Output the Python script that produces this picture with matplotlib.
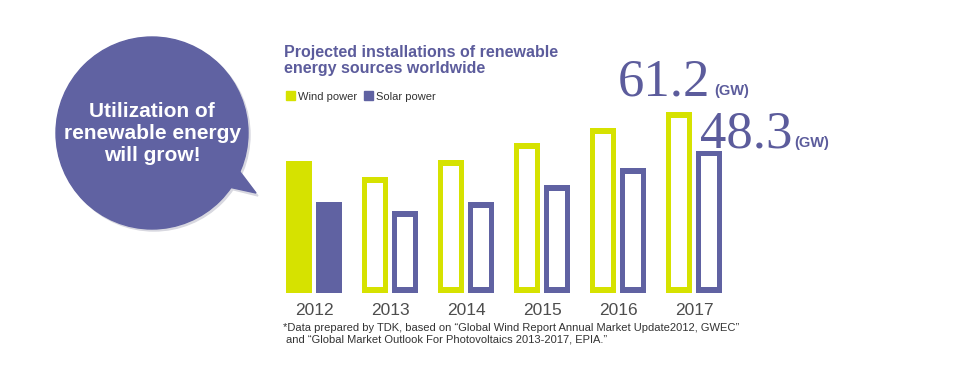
import matplotlib
matplotlib.use('Agg')
import matplotlib.pyplot as plt
from matplotlib.patches import Circle, Polygon, Rectangle

years = ['2012', '2013', '2014', '2015', '2016', '2017']
wind = [44.7, 39.3, 45.1, 50.8, 56.0, 61.2]
solar = [30.8, 27.8, 30.8, 36.6, 42.3, 48.3]

WIND_C = '#d6e200'
SOLAR_C = '#6062a2'
TITLE_C = '#5c5c9c'

W, H = 960, 383
fig = plt.figure(figsize=(W / 100, H / 100), dpi=100)

# chart axes placed in pixel terms: 76 px per year, 2.95 px per GW
px_x, px_y = 76.0, 2.95
ymax = 70
ax = fig.add_axes([276 / W, 90 / H, 456 / W, ymax * px_y / H])
ax.set_xlim(-0.5, 5.5)
ax.set_ylim(0, ymax)
for s in ax.spines.values():
    s.set_visible(False)
ax.set_yticks([])

x = list(range(len(years)))
bw = 26.5 / px_x
off = 15 / px_x
ins_x = 5.7 / px_x
ins_y = 5.7 / px_y

xw = [i - off for i in x]
xs = [i + off for i in x]
ax.bar(xw, wind, width=bw, color=WIND_C, zorder=2)
ax.bar(xs, solar, width=bw, color=SOLAR_C, zorder=2)
# hollow bars for projected years (2013 onwards)
ax.bar(xw[1:], [v - 2 * ins_y for v in wind[1:]], bottom=ins_y,
       width=bw - 2 * ins_x, color='white', zorder=3)
ax.bar(xs[1:], [v - 2 * ins_y for v in solar[1:]], bottom=ins_y,
       width=bw - 2 * ins_x, color='white', zorder=3)

ax.set_xticks(x)
ax.set_xticklabels(years, fontsize=12.5, color='#4d4d4d', family='Liberation Sans')
ax.tick_params(axis='x', length=0, pad=7)

# overlay in pixel coordinates for annotations and bubble
ov = fig.add_axes([0, 0, 1, 1])
ov.set_xlim(0, W)
ov.set_ylim(H, 0)
ov.axis('off')
ov.patch.set_visible(False)

# speech bubble
ov.add_patch(Circle((154, 135), 96, color='#d8d8e0', zorder=1))
ov.add_patch(Polygon([(236, 166), (258, 196), (226, 188)], closed=True,
                     color='#d8d8e0', zorder=1))
ov.add_patch(Circle((152, 133), 96, color=SOLAR_C, zorder=2))
ov.add_patch(Polygon([(234, 164), (256, 193), (224, 186)], closed=True,
                     color=SOLAR_C, zorder=2))
for txt, yb in [('Utilization of', 117), ('renewable energy', 139), ('will grow!', 161)]:
    ov.text(152, yb, txt, color='white', fontsize=15, fontweight='bold',
            family='Liberation Sans', ha='center', va='baseline', zorder=3)

# title
ov.text(284, 57, 'Projected installations of renewable', color=TITLE_C,
        fontsize=11.5, fontweight='bold', family='Liberation Sans', va='baseline')
ov.text(284, 73, 'energy sources worldwide', color=TITLE_C,
        fontsize=11.5, fontweight='bold', family='Liberation Sans', va='baseline')

# legend
ov.add_patch(Rectangle((286, 91), 9, 9, color=WIND_C))
ov.text(298, 99.5, 'Wind power', fontsize=8, color='#333333',
        family='Liberation Sans', va='baseline')
ov.add_patch(Rectangle((364, 91), 9, 9, color=SOLAR_C))
ov.text(376, 99.5, 'Solar power', fontsize=8, color='#333333',
        family='Liberation Sans', va='baseline')

# value callouts
ov.text(710, 95, f'{wind[-1]:.1f}', fontsize=38, color=TITLE_C,
        family='Liberation Serif', ha='right', va='baseline')
ov.text(714, 95, '(GW)', fontsize=10.5, color=TITLE_C, fontweight='bold',
        family='Liberation Sans', va='baseline')
ov.text(792, 147, f'{solar[-1]:.1f}', fontsize=38, color=TITLE_C,
        family='Liberation Serif', ha='right', va='baseline')
ov.text(794, 147, '(GW)', fontsize=10.5, color=TITLE_C, fontweight='bold',
        family='Liberation Sans', va='baseline')

# footnote
ov.text(283, 331, '*Data prepared by TDK, based on \u201cGlobal Wind Report Annual Market Update2012, GWEC\u201d',
        fontsize=8, color='#333333', family='Liberation Sans', va='baseline')
ov.text(286, 343, 'and \u201cGlobal Market Outlook For Photovoltaics 2013-2017, EPIA.\u201d',
        fontsize=8, color='#333333', family='Liberation Sans', va='baseline')

fig.savefig('out.png', dpi=100)
